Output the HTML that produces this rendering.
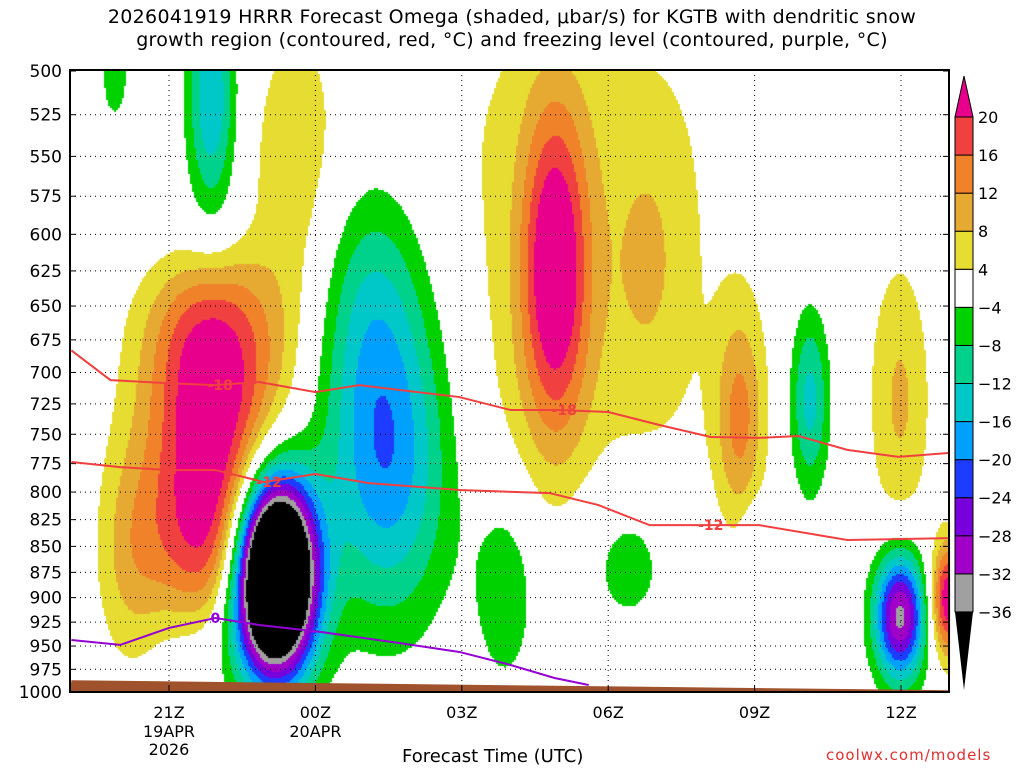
<!DOCTYPE html>
<html><head><meta charset="utf-8"><style>
body{margin:0;background:#fff;width:1024px;height:768px;overflow:hidden;font-family:"DejaVu Sans","Liberation Sans",sans-serif}
#wrap{position:relative;width:1024px;height:768px}
canvas{position:absolute;left:0;top:0}
svg{position:absolute;left:0;top:0}
</style></head><body>
<div id="wrap">
<canvas id="cv" width="1024" height="768"></canvas>
<svg id="sv" width="1024" height="768"></svg>
</div>
<script>
// ---- data ----
const pressureTicks=[500,525,550,575,600,625,650,675,700,725,750,775,800,825,850,875,900,925,950,975,1000];
const timeTickHours=[2,5,8,11,14,17];
const timeTickLabels=["21Z","00Z","03Z","06Z","09Z","12Z"];
const levels=[-36,-32,-28,-24,-20,-16,-12,-8,-4,4,8,12,16,20];
const levelColors=["#000000","#a0a0a0","#a000c8","#7800dc","#1e3cff","#00a0ff","#00c8c8","#00d28c","#00d200","#ffffff","#e6dc32","#e6aa32","#f0822a","#f04040","#e8008c"];
// omega features: hour, pressure (hPa), hour-spread, ln-pressure spread, vertical exponent, amplitude (µbar/s)
const blobHour=[2.86,1.20,4.17,6.47,6.12,9.91,10.32,11.86,4.59,2.88,0.89,15.13,13.70,16.98,16.98,17.96,8.89,11.41,14.05];
const blobPres=[755,863,877,768,638,624,611,617,565,516,500,722,738,722,918,902,892,863,842];
const blobSH=[0.95,0.51,0.57,0.92,0.82,0.48,2.46,0.55,0.72,0.35,0.25,0.29,0.35,0.45,0.37,0.25,0.45,0.66,0.23];
const blobSL=[0.16,0.095,0.075,0.125,0.10,0.125,0.246,0.10,0.134,0.089,0.05,0.073,0.084,0.112,0.05,0.045,0.08,0.061,0.028];
const blobQ=[4,2,2,2,2,2,4,2,2,2,2,2,2,2,2,2,2,2,2];
const blobAmp=[26,7,-80,-20,-9,22,5.5,4.5,7,-16,-6,-14,12,8.5,-34,24,-7,-6,-6];
// temperature contours (hour, hPa)
const t18Hour=[0,0.8,2.0,2.95,3.85,5.0,5.9,7.95,9.0,10.0,11.0,12.05,13.1,14.1,14.9,15.9,16.95,18];
const t18Pres=[683,706,708.5,710,707.5,715.5,710,719.5,730,730,731.6,742.3,752.3,753,751.5,763.2,769.2,765.8];
const t12Hour=[0,1.0,2.0,2.95,3.95,5.0,6.1,7.95,9.8,10.8,11.85,12.9,14.1,15.9,18];
const t12Pres=[773.6,778,780.6,780.6,791.1,784,792,798.2,800.9,811.7,830.1,830.1,830.1,844,842.2];
const t0Hour=[0,1.0,2.0,2.95,3.85,5.1,6.7,7.95,9.0,9.9,10.6];
const t0Pres=[943.6,948.8,931,920.7,927.9,935.1,946.7,956.3,970.3,984.5,992.2];
const groundHour=[0,18];
const groundPres=[987,998];
// ---- axes ----
const X0=71.4,PXH=48.8,Y0=71,PXL=895.9,L=70,R=949,T=70,B=692;
const xs=h=>X0+h*PXH, ys=p=>Y0+Math.log(p/500)*PXL;
const hx=x=>(x-X0)/PXH, py=y=>500*Math.exp((y-Y0)/PXL);
function field(h,p){let v=0;const lp=Math.log(p);for(let i=0;i<blobHour.length;i++){const dh=(h-blobHour[i])/blobSH[i],dp=Math.abs((lp-Math.log(blobPres[i]))/blobSL[i]);v+=blobAmp[i]*Math.exp(-0.5*(dh*dh+Math.pow(dp,blobQ[i])));}return v;}
function colorOf(v){let k=0;while(k<levels.length&&v>=levels[k])k++;return levelColors[k];}
const cx=document.getElementById('cv').getContext('2d');
const S=2;
for(let x=L;x<R;x+=S){for(let y=T;y<B;y+=S){const v=field(hx(x+1),py(y+1));const c=colorOf(v);if(c!=="#ffffff"){cx.fillStyle=c;cx.fillRect(x,y,S,S);}}}
const NS="http://www.w3.org/2000/svg";const sv=document.getElementById('sv');
function el(t,a,txt){const e=document.createElementNS(NS,t);for(const k in a)e.setAttribute(k,a[k]);if(txt!==undefined)e.textContent=txt;sv.appendChild(e);return e;}
// ground
let gp=`M${xs(groundHour[0])},${ys(groundPres[0])} L${xs(groundHour[1])},${ys(groundPres[1])} L${R},${B} L${L},${B}Z`;
let g=el('path',{d:gp,fill:'#a0522d'});


// grid
pressureTicks.forEach((p,i)=>{const y=ys(p);
 if(i>0&&i<pressureTicks.length-1){let l=el('line',{x1:L,x2:R,y1:y,y2:y,stroke:'#000','stroke-width':1,'stroke-dasharray':'1,4'});}
 let t=el('text',{x:62,y:y+6,'text-anchor':'end','font-size':17,fill:'#000'},String(p));
 el('line',{x1:L,x2:L+6,y1:y,y2:y,stroke:'#000'});el('line',{x1:R-6,x2:R,y1:y,y2:y,stroke:'#000'});
});
timeTickHours.forEach((h,i)=>{const x=xs(h);
 let l=el('line',{x1:x,x2:x,y1:T,y2:B,stroke:'#000','stroke-dasharray':'1,4'});
 el('line',{x1:x,x2:x,y1:B-6,y2:B,stroke:'#000'});
 let t=el('text',{x:x,y:718,'text-anchor':'middle','font-size':16},timeTickLabels[i]);
});
[[xs(2),"19APR",737],[xs(2),"2026",755],[xs(5),"20APR",737]].forEach(d=>{let t=el('text',{x:d[0],y:d[2],'text-anchor':'middle','font-size':16},d[1]);});
// contours
function line(H,P,col,name){let d=H.map((h,i)=>(i?'L':'M')+xs(h)+','+ys(P[i])).join(' ');let e=el('path',{d:d,fill:'none',stroke:col,'stroke-width':2});}
line(t18Hour,t18Pres,'#f04040','contour-minus-18');
line(t12Hour,t12Pres,'#f04040','contour-minus-12');
line(t0Hour,t0Pres,'#9400d3','freezing-level-0');
function lab(h,p,s,col){let t=el('text',{x:xs(h),y:ys(p)+5,'text-anchor':'middle','font-size':14,'font-weight':'bold',fill:col},s);}
lab(3.05,710,'-18','#f04040');lab(10.1,730,'-18','#f04040');lab(4.05,791,'-12','#f04040');lab(13.1,830,'-12','#f04040');lab(2.95,920.7,'0','#9400d3');
let fr=el('rect',{x:L,y:T,width:R-L,height:B-T,fill:'none',stroke:'#000','stroke-width':2});
// colorbar
const CB0=955,CBW=18,CBT=117,CBS=38.07;
for(let k=1;k<levelColors.length-1;k++){const top=CBT+(levels.length-1-k)*CBS;let r=el('rect',{x:CB0,y:top,width:CBW,height:CBS,fill:levelColors[k],stroke:'#000','stroke-width':1});}
let ta=el('path',{d:`M${CB0},${CBT} L${CB0+CBW/2},76 L${CB0+CBW},${CBT}Z`,fill:levelColors[14],stroke:'#000'});
const bot=CBT+13*CBS;
let ba=el('path',{d:`M${CB0},${bot} L${CB0+CBW/2},690 L${CB0+CBW},${bot}Z`,fill:'#000'});
levels.forEach((v,i)=>{const y=CBT+(levels.length-1-i)*CBS;let t=el('text',{x:978,y:y+6,'font-size':16},v<0?'\u2212'+(-v):String(v));});
</script>
<div style="position:absolute;left:0;top:6px;width:1024px;text-align:center;font-size:19px;line-height:23px;letter-spacing:0.3px">2026041919 HRRR Forecast Omega (shaded, &mu;bar/s) for KGTB with dendritic snow<br>growth region (contoured, red, &deg;C) and freezing level (contoured, purple, &deg;C)</div>
<div style="position:absolute;left:402px;top:746px;font-size:18px">Forecast Time (UTC)</div>
<div style="position:absolute;left:826px;top:746px;font-size:15px;color:#e03030;letter-spacing:1px">coolwx.com/models</div>
</body></html>
